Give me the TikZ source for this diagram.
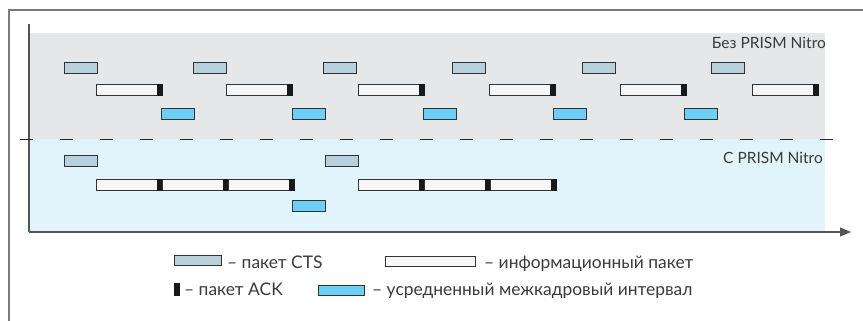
\documentclass[tikz,border=0pt]{standalone}
\usepackage{fontspec}
\setmainfont{Lato}
\usepackage{tikz}
\usetikzlibrary{positioning,arrows.meta}
\definecolor{ctsfill}{HTML}{B8D0DC}
\definecolor{ifsfill}{HTML}{6DCFF6}
\definecolor{topbg}{HTML}{E6E7E8}
\definecolor{botbg}{HTML}{E1F4FB}
\definecolor{framegray}{HTML}{7A7A7A}
\definecolor{axisgray}{HTML}{555555}
\definecolor{txtgray}{HTML}{3A3A3A}
\tikzset{
  pkt/.style={draw=black!80, line width=0.8pt, inner sep=0pt, outer sep=0pt, anchor=north west, minimum height=11.5pt},
  cts/.style={pkt, fill=ctsfill, minimum width=33pt},
  datapkt/.style={pkt, fill=black!3, minimum width=61pt},
  ack/.style={draw=black!90, fill=black!90, line width=0.8pt, inner sep=0pt, outer sep=0pt, minimum width=5pt, minimum height=11.5pt},
  ifs/.style={pkt, fill=ifsfill, minimum width=33pt},
  lbl/.style={text=txtgray, font=\fontsize{15.5}{18}\selectfont, inner sep=0pt},
  legtext/.style={text=txtgray, font=\fontsize{17.4}{20}\selectfont, inner sep=0pt, anchor=base west},
}

\begin{document}
\begin{tikzpicture}[x=1pt,y=-1pt]
\useasboundingbox (0,0) rectangle (863,321);
\draw[framegray, line width=1.5pt] (9,321) -- (9,10) -- (863,10);
\fill[topbg] (30,33) rectangle (825,139);
\fill[botbg] (30,139) rectangle (825,232);
\coordinate (origin) at (29,232);
\coordinate (ytop) at (29,24);
\coordinate (tend) at (851,232);
\draw[axisgray, line width=1.2pt] (ytop) -- (origin);
\draw[axisgray, line width=1.2pt, -{Triangle[length=11pt,width=9pt]}] (origin) -- (tend);
\draw[black!85, line width=0.9pt, dash pattern=on 13pt off 27pt] (20,139) -- (833,139);
\node[lbl, anchor=base east] (without) at (826,49) {Без PRISM Nitro};
\node[lbl, anchor=base east] (with) at (823,163) {С PRISM Nitro};

% без PRISM Nitro
\node[cts] (c1) at (64,62) {};
\node[cts] (c2) at (193,62) {};
\node[cts] (c3) at (323,62) {};
\node[cts] (c4) at (452,62) {};
\node[cts] (c5) at (582,62) {};
\node[cts] (c6) at (711,62) {};
\node[datapkt] (d1) at (96,84) {};
\node[ack, right=0pt of d1] (a1) {};
\node[datapkt] (d2) at (226,84) {};
\node[ack, right=0pt of d2] (a2) {};
\node[datapkt] (d3) at (358,84) {};
\node[ack, right=0pt of d3] (a3) {};
\node[datapkt] (d4) at (489,84) {};
\node[ack, right=0pt of d4] (a4) {};
\node[datapkt] (d5) at (620,84) {};
\node[ack, right=0pt of d5] (a5) {};
\node[datapkt] (d6) at (752,84) {};
\node[ack, right=0pt of d6] (a6) {};
\node[ifs] (i1) at (161,108) {};
\node[ifs] (i2) at (292,108) {};
\node[ifs] (i3) at (423,108) {};
\node[ifs] (i4) at (553,108) {};
\node[ifs] (i5) at (684,108) {};

% с PRISM Nitro
\node[cts] (nc1) at (64,155) {};
\node[cts] (nc2) at (325,155) {};
\node[datapkt] (nd1) at (96,179) {};
\node[ack, right=0pt of nd1] (na1) {};
\node[datapkt, anchor=west, right=0pt of na1] (nd2) {};
\node[ack, right=0pt of nd2] (na2) {};
\node[datapkt, anchor=west, right=0pt of na2] (nd3) {};
\node[ack, right=0pt of nd3] (na3) {};
\node[datapkt] (nd4) at (358,179) {};
\node[ack, right=0pt of nd4] (na4) {};
\node[datapkt, anchor=west, right=0pt of na4] (nd5) {};
\node[ack, right=0pt of nd5] (na5) {};
\node[datapkt, anchor=west, right=0pt of na5] (nd6) {};
\node[ack, right=0pt of nd6] (na6) {};
\node[ifs] (ni1) at (292,200) {};

% легенда
\node[cts, minimum width=47pt, minimum height=10pt] (lcts) at (174,255) {};
\node[legtext] (tcts) at (227,268) {– пакет CTS};
\node[datapkt, minimum width=90pt, minimum height=10pt] (ldata) at (385,256) {};
\node[legtext] (tdata) at (484,268) {– информационный пакет};
\node[ack, anchor=north west, minimum height=12pt] (lack) at (174,283) {};
\node[legtext] (tack) at (184,295) {– пакет ACK};
\node[ifs, minimum width=46pt, minimum height=10pt] (lifs) at (318,285) {};
\node[legtext] (tifs) at (372,295) {– усредненный межкадровый интервал};
\end{tikzpicture}
\end{document}
